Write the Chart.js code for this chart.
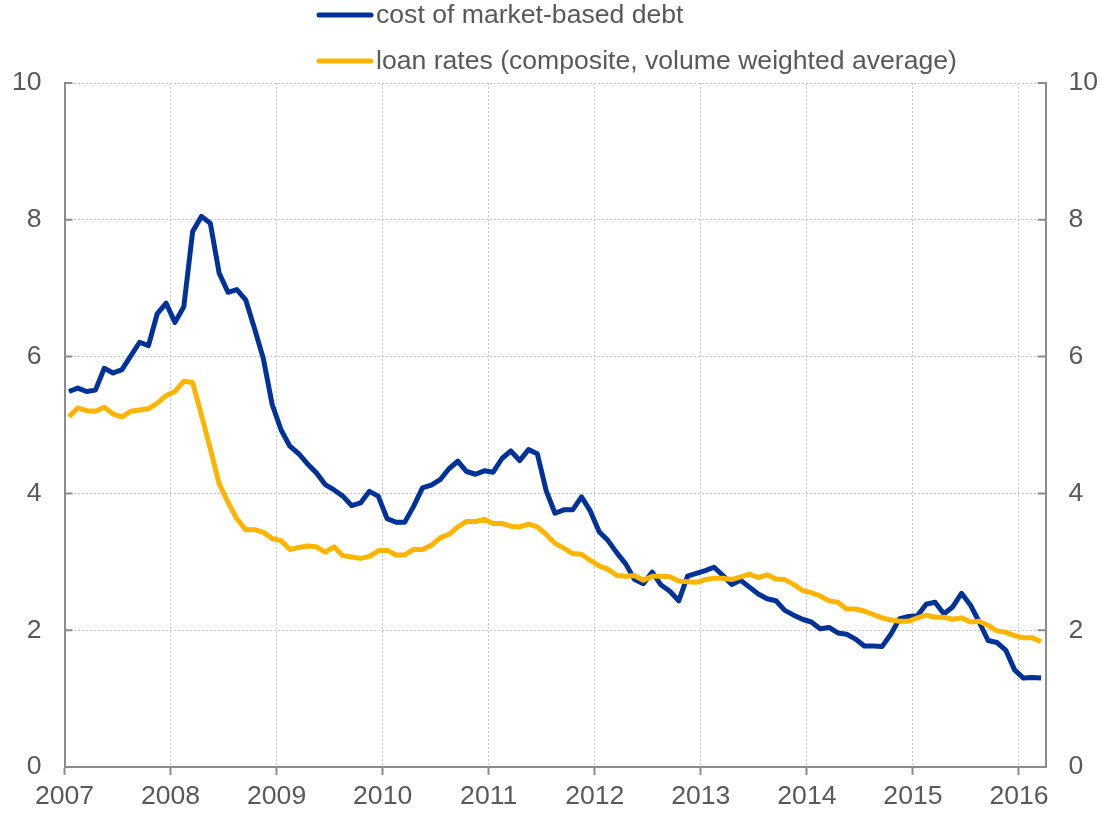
<!DOCTYPE html>
<html>
<head>
<meta charset="utf-8">
<script src="https://cdn.jsdelivr.net/npm/chart.js@4/dist/chart.umd.min.js"></script>
<style>
  html, body { margin: 0; padding: 0; background: #ffffff; }
  #wrap { width: 1101px; height: 813px; position: relative; }
</style>
</head>
<body>
<div id="wrap"><canvas id="c" width="1101" height="813"></canvas></div>
<script>
// ---- data ----
const startYear = 2007;
const seriesNames = ['cost of market-based debt', 'loan rates (composite, volume weighted average)'];
const yearTicks = ['2007','2008','2009','2010','2011','2012','2013','2014','2015','2016'];
const valueTicks = [0, 2, 4, 6, 8, 10];

// monthly values, Jan 2007 .. Mar 2016
const marketDebt = [
  5.49, 5.54, 5.49, 5.51, 5.83, 5.76, 5.81, 6.01, 6.21, 6.16, 6.63, 6.78,
  6.50, 6.73, 7.83, 8.05, 7.95, 7.22, 6.94, 6.98, 6.83, 6.41, 5.97, 5.30,
  4.93, 4.69, 4.58, 4.43, 4.30, 4.13, 4.05, 3.96, 3.82, 3.86, 4.03, 3.96,
  3.63, 3.58, 3.58, 3.81, 4.08, 4.12, 4.20, 4.36, 4.47, 4.32, 4.28, 4.33,
  4.31, 4.51, 4.62, 4.48, 4.64, 4.58, 4.04, 3.71, 3.76, 3.76, 3.95, 3.74,
  3.44, 3.31, 3.13, 2.97, 2.74, 2.68, 2.85, 2.66, 2.57, 2.43, 2.79, 2.83,
  2.87, 2.92, 2.80, 2.67, 2.73, 2.63, 2.53, 2.46, 2.43, 2.29, 2.22, 2.16,
  2.12, 2.02, 2.04, 1.96, 1.94, 1.87, 1.77, 1.77, 1.76, 1.94, 2.17, 2.20,
  2.21, 2.38, 2.41, 2.24, 2.34, 2.54, 2.37, 2.12, 1.85, 1.82, 1.71, 1.42,
  1.30, 1.31, 1.30
];
const loanRates = [
  5.12, 5.25, 5.21, 5.20, 5.26, 5.16, 5.12, 5.20, 5.22, 5.24, 5.32, 5.43,
  5.49, 5.64, 5.62, 5.14, 4.65, 4.14, 3.87, 3.63, 3.47, 3.47, 3.43, 3.34,
  3.31, 3.18, 3.21, 3.23, 3.22, 3.14, 3.22, 3.09, 3.07, 3.05, 3.08, 3.16,
  3.17, 3.10, 3.10, 3.18, 3.18, 3.24, 3.35, 3.40, 3.51, 3.59, 3.59, 3.62,
  3.56, 3.56, 3.52, 3.51, 3.55, 3.51, 3.40, 3.27, 3.20, 3.12, 3.11, 3.02,
  2.94, 2.89, 2.80, 2.79, 2.80, 2.73, 2.79, 2.79, 2.78, 2.72, 2.71, 2.70,
  2.74, 2.76, 2.76, 2.74, 2.78, 2.82, 2.77, 2.81, 2.75, 2.74, 2.67, 2.58,
  2.55, 2.50, 2.43, 2.41, 2.31, 2.31, 2.28, 2.23, 2.18, 2.15, 2.13, 2.13,
  2.18, 2.22, 2.19, 2.19, 2.16, 2.18, 2.12, 2.13, 2.07, 1.99, 1.97, 1.92,
  1.89, 1.89, 1.83
];

// month positions (decimal years, mid-month)
const monthPos = marketDebt.map((_, i) => startYear + (i + 0.5) / 12);
const toPoints = arr => arr.map((v, i) => ({ x: monthPos[i], y: v }));

const TEXT = '#595959';
const AXIS = '#8c8c8c';
const GRID = '#c4c4c4';
const FONT = "'Liberation Sans', Arial, sans-serif";
const FSIZE = 26.6;
const BLUE = '#003299';
const YELLOW = '#FFB400';

// inward y ticks + legend drawn on canvas
const extras = {
  id: 'extras',
  afterDraw(chart) {
    const ctx = chart.ctx;
    const area = chart.chartArea;
    const yl = chart.scales.y;
    ctx.save();
    ctx.strokeStyle = AXIS;
    ctx.lineWidth = 2;
    valueTicks.forEach(v => {
      const py = yl.getPixelForValue(v);
      ctx.beginPath();
      ctx.moveTo(area.left, py); ctx.lineTo(area.left + 8, py);
      ctx.moveTo(area.right - 8, py); ctx.lineTo(area.right, py);
      ctx.stroke();
    });
    // legend
    const rows = [15, 61];
    chart.data.datasets.forEach((ds, k) => {
      const y = rows[k];
      ctx.strokeStyle = ds.borderColor;
      ctx.lineWidth = 5;
      ctx.lineCap = 'round';
      ctx.beginPath();
      ctx.moveTo(319, y); ctx.lineTo(371, y);
      ctx.stroke();
      ctx.fillStyle = TEXT;
      ctx.font = FSIZE + 'px ' + FONT;
      ctx.textBaseline = 'middle';
      ctx.textAlign = 'left';
      ctx.fillText(ds.label, 376, y + 1);
    });
    ctx.restore();
  }
};

new Chart(document.getElementById('c'), {
  type: 'line',
  data: {
    datasets: [
      { label: seriesNames[0], data: toPoints(marketDebt), borderColor: BLUE, backgroundColor: BLUE,
        borderWidth: 5, pointRadius: 0, tension: 0, order: 2, borderJoinStyle: 'round' },
      { label: seriesNames[1], data: toPoints(loanRates), borderColor: YELLOW, backgroundColor: YELLOW,
        borderWidth: 5, pointRadius: 0, tension: 0, order: 1, borderJoinStyle: 'round' }
    ]
  },
  options: {
    responsive: false,
    animation: false,
    layout: { padding: { top: 83, left: 0, right: 0, bottom: 0 } },
    plugins: { legend: { display: false }, tooltip: { enabled: false } },
    scales: {
      x: {
        type: 'linear',
        min: 2007, max: 2016.25,
        afterFit: s => { s.height = 46; },
        afterBuildTicks: s => { s.ticks = yearTicks.map(t => ({ value: Number(t) })); },
        ticks: {
          color: TEXT, font: { family: FONT, size: FSIZE }, padding: 6,
          maxRotation: 0, autoSkip: false,
          callback: (v) => String(v)
        },
        grid: { color: GRID, lineWidth: 1, drawTicks: true, tickLength: 8,
                tickColor: AXIS, tickWidth: 2, tickBorderDash: [] },
        border: { display: true, color: AXIS, width: 2, dash: [2, 2] }
      },
      y: {
        position: 'left',
        min: 0, max: 10,
        afterFit: s => { s.width = 64.5; },
        afterBuildTicks: s => { s.ticks = valueTicks.map(v => ({ value: v })); },
        ticks: { color: TEXT, font: { family: FONT, size: FSIZE }, padding: 23, callback: v => String(v) },
        grid: { color: GRID, lineWidth: 1, drawTicks: false },
        border: { display: true, color: AXIS, width: 2, dash: [2, 2] }
      },
      y2: {
        position: 'right',
        min: 0, max: 10,
        afterFit: s => { s.width = 55.5; },
        afterBuildTicks: s => { s.ticks = valueTicks.map(v => ({ value: v })); },
        ticks: { color: TEXT, font: { family: FONT, size: FSIZE }, padding: 23, callback: v => String(v) },
        grid: { drawOnChartArea: false, drawTicks: false },
        border: { display: true, color: AXIS, width: 2 }
      }
    }
  },
  plugins: [extras]
});
</script>
</body>
</html>
